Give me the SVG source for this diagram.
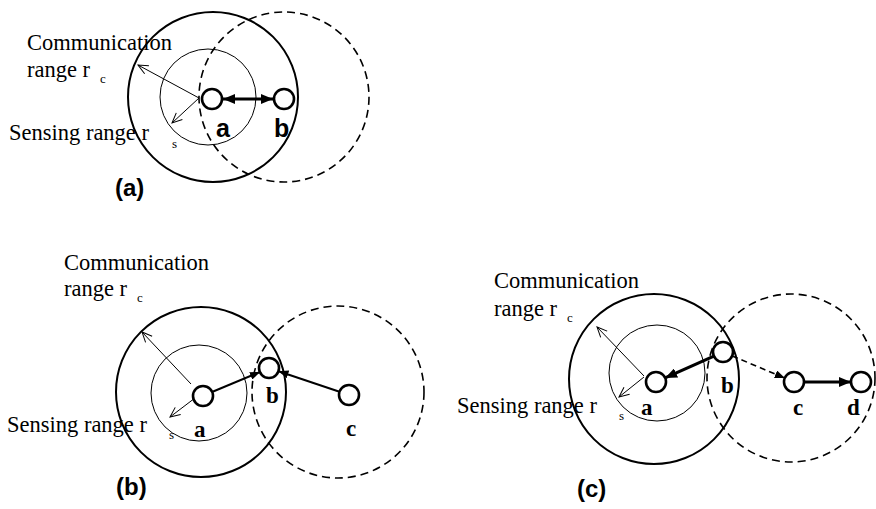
<svg xmlns="http://www.w3.org/2000/svg" width="876" height="509" viewBox="0 0 876 509">
<style>
.bg{fill:#fff}
.rc{fill:none;stroke:#000;stroke-width:2}
.rs{fill:none;stroke:#000;stroke-width:1}
.rd{fill:none;stroke:#000;stroke-width:1.6;stroke-dasharray:8 5}
.node{fill:#fff;stroke:#000;stroke-width:2.6}
.rl{stroke:#000;stroke-width:1;fill:none}
.lk{stroke:#000;stroke-width:2;fill:none}
.lk3{stroke:#000;stroke-width:3.2;fill:none}
.lkd{stroke:#000;stroke-width:1.6;fill:none;stroke-dasharray:6 4}
.t{font-family:"Liberation Serif","Times New Roman",serif;font-size:22.5px;fill:#000}
.sub{font-family:"Liberation Serif","Times New Roman",serif;font-size:13px;fill:#000}
.nb{font-family:"Liberation Serif","Times New Roman",serif;font-size:23px;font-weight:bold;fill:#000}
.na{font-family:"Liberation Sans",Arial,sans-serif;font-size:25px;font-weight:bold;fill:#000}
.cap{font-family:"Liberation Sans",Arial,sans-serif;font-size:24px;font-weight:bold;fill:#000}
</style>
<defs>
<marker id="open" markerUnits="userSpaceOnUse" markerWidth="14" markerHeight="12" refX="11" refY="5" orient="auto" viewBox="0 0 14 10">
<path d="M1,0.5 L11,5 L1,9.5" fill="none" stroke="#000" stroke-width="1"/>
</marker>
<marker id="solid" markerUnits="userSpaceOnUse" markerWidth="12" markerHeight="10" refX="12" refY="5" orient="auto-start-reverse" viewBox="0 0 12 10">
<path d="M0,0 L12,5 L0,10 Z" fill="#000"/>
</marker>
<marker id="solidS" markerUnits="userSpaceOnUse" markerWidth="10" markerHeight="8" refX="10" refY="4" orient="auto" viewBox="0 0 10 8">
<path d="M0,0 L10,4 L0,8 Z" fill="#000"/>
</marker>
</defs>
<rect class="bg" x="0" y="0" width="876" height="509"/>

<!-- Panel (a) -->
<g id="panel-a-ranges">
<circle class="rc" cx="213" cy="97" r="85"/>
<circle class="rs" cx="208" cy="97" r="48"/>
<circle class="rd" cx="284" cy="97" r="85"/>
</g>
<g id="panel-a-connectors">
<line class="rl" x1="199" y1="98" x2="138" y2="65" marker-end="url(#open)"/>
<line class="rl" x1="199" y1="98" x2="172" y2="123" marker-end="url(#open)"/>
<line class="lk3" x1="223" y1="99" x2="273" y2="99" marker-start="url(#solid)" marker-end="url(#solid)"/>
</g>
<g id="a-node-a"><circle class="node" cx="212" cy="99" r="10"/><text class="na" x="216" y="137">a</text></g>
<g id="a-node-b"><circle class="node" cx="284" cy="99" r="10"/><text class="na" x="274" y="137">b</text></g>
<g id="a-labels">
<text class="t" x="27" y="50">Communication</text>
<text class="t" x="27" y="77">range r</text><text class="sub" x="100" y="83">c</text>
<text class="t" x="9" y="140">Sensing range r</text><text class="sub" x="172" y="148">s</text>
<text class="cap" x="115" y="196">(a)</text>
</g>

<!-- Panel (b) -->
<g id="panel-b-ranges">
<circle class="rc" cx="201" cy="392" r="85"/>
<circle class="rs" cx="199" cy="393" r="48"/>
<circle class="rd" cx="338" cy="392" r="86"/>
</g>
<g id="panel-b-connectors">
<line class="rl" x1="191" y1="384" x2="142" y2="332" marker-end="url(#open)"/>
<line class="rl" x1="195" y1="398" x2="170" y2="417" marker-end="url(#open)"/>
<line class="lk" x1="212" y1="392" x2="260" y2="372" marker-end="url(#solidS)"/>
<line class="lk" x1="339.5" y1="391.8" x2="278.5" y2="371.2" marker-end="url(#solidS)"/>
</g>
<g id="b-node-a"><circle class="node" cx="203" cy="396" r="10"/><text class="nb" x="194" y="437">a</text></g>
<g id="b-node-b"><circle class="node" cx="269" cy="368" r="10"/><text class="nb" x="266" y="403">b</text></g>
<g id="b-node-c"><circle class="node" cx="349" cy="395" r="10"/><text class="nb" x="346" y="436">c</text></g>
<g id="b-labels">
<text class="t" x="64" y="270">Communication</text>
<text class="t" x="64" y="296">range r</text><text class="sub" x="137" y="302">c</text>
<text class="t" x="7" y="432">Sensing range r</text><text class="sub" x="169" y="439">s</text>
<text class="cap" x="116" y="495">(b)</text>
</g>

<!-- Panel (c) -->
<g id="panel-c-ranges">
<circle class="rc" cx="654" cy="379" r="85"/>
<circle class="rs" cx="657" cy="373" r="48"/>
<circle class="rd" cx="791" cy="378" r="84"/>
</g>
<g id="panel-c-connectors">
<line class="rl" x1="644" y1="376" x2="597" y2="327" marker-end="url(#open)"/>
<line class="rl" x1="644" y1="377" x2="619" y2="397" marker-end="url(#open)"/>
<line class="lk3" x1="713.9" y1="356.1" x2="665.1" y2="377.9" marker-end="url(#solid)"/>
<line class="lkd" x1="732.2" y1="355.9" x2="784.8" y2="378.1" marker-end="url(#solidS)"/>
<line class="lk3" x1="804" y1="382" x2="851" y2="382" marker-end="url(#solid)"/>
</g>
<g id="c-node-a"><circle class="node" cx="656" cy="382" r="10"/><text class="nb" x="641" y="415">a</text></g>
<g id="c-node-b"><circle class="node" cx="723" cy="352" r="10"/><text class="nb" x="721" y="393">b</text></g>
<g id="c-node-c"><circle class="node" cx="794" cy="382" r="10"/><text class="nb" x="793" y="415">c</text></g>
<g id="c-node-d"><circle class="node" cx="861" cy="382" r="10"/><text class="nb" x="847" y="415">d</text></g>
<g id="c-labels">
<text class="t" x="494" y="288">Communication</text>
<text class="t" x="494" y="316">range r</text><text class="sub" x="567" y="322">c</text>
<text class="t" x="457" y="413">Sensing range r</text><text class="sub" x="619" y="420">s</text>
<text class="cap" x="577" y="497">(c)</text>
</g>
</svg>
